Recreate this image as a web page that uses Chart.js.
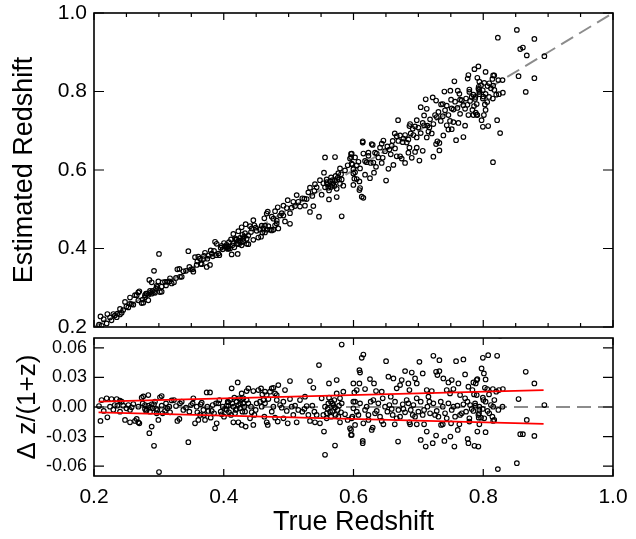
<!DOCTYPE html>
<html><head><meta charset="utf-8">
<script src="https://cdn.jsdelivr.net/npm/chart.js@4.4.1/dist/chart.umd.min.js"></script>
<style>
html,body{margin:0;padding:0;background:#fff;}
#wrap{position:relative;width:636px;height:539px;background:#fff;}
canvas{position:absolute;left:0;}
#top{top:0;} #bot{top:333px;}
</style></head><body>
<div id="wrap"><canvas id="top" width="636" height="333"></canvas><canvas id="bot" width="636" height="206"></canvas></div>
<script>
// ---- data ----
const trueZ = [
0.2195,0.2118,0.227,0.235,0.240,0.2077,0.210,0.215,0.2206,0.2247,0.2298,0.232,0.2427,0.245,0.2478,0.250,0.2529,0.2555,0.258,0.2606,
0.2632,0.2658,0.2683,0.2699,0.2735,0.276,0.2786,0.2812,0.2837,0.2853,0.2863,0.2889,0.2904,0.2925,0.294,0.2966,0.2992,0.3002,0.3017,0.3043,
0.3058,0.3094,0.313,0.3172,0.3197,0.3233,0.3264,0.3285,0.3316,0.3326,0.3352,0.3377,0.3418,0.3454,0.347,0.3495,0.3531,0.3557,0.3583,0.3608,
0.3634,0.366,0.3686,0.3711,0.3737,0.3763,0.3788,0.3799,0.383,0.385,0.3866,0.3891,0.3917,0.3932,0.3953,0.3984,0.4004,0.4045,0.4071,0.2786,
0.2837,0.2889,0.2956,0.2401,0.2683,
0.5818,0.5468,0.5561,0.5715,0.5545,0.5741,0.5622,0.5329,0.5381,0.5021,
0.4944,0.4841,0.4765,0.4713,0.4662,0.4611,0.4533,0.4456,0.4379,0.4353,
0.4215,0.4122,0.4276,0.4097,0.4071,0.4148,0.4199,0.4225,0.4251,0.4266,
0.4302,0.4328,0.4174,0.4148,0.4225,0.4276,0.4338,0.4456,0.4405,0.4431,
0.4492,0.456,0.4585,0.4626,0.4662,0.4678,0.474,0.4791,0.4832,0.4894,
0.492,0.4986,0.5021,0.5047,0.5072,0.5124,0.5149,0.5175,0.5211,0.5252,
0.5278,0.5304,0.5329,0.5365,0.5406,0.5432,0.5483,0.5509,0.5535,0.5586,
0.5612,0.5653,0.5674,0.5705,0.5741,0.5766,0.5792,0.5818,0.5843,0.5869,
0.591,0.5946,0.5962,0.5982,0.5998,0.6013,0.4045,0.4112,0.4199,0.4235,
0.4302,0.4317,0.4379,0.4507,0.4595,0.4636,0.4688,0.4791,0.4817,0.4868,
0.4765,0.5561,0.5602,0.5638,0.5689,0.5715,0.5756,0.5792,
0.6152,0.6127,0.6502,0.7016,0.7231,0.7324,0.7581,0.7694,0.6091,0.6101,
0.6795,0.6898,0.7067,0.7273,0.7324,0.7293,0.772,0.6538,0.6615,0.6743,
0.6949,0.6975,0.6254,0.6316,0.5998,0.6091,0.605,0.6178,0.6347,0.6435,
0.6574,0.6666,0.6718,0.6846,0.6862,0.7129,0.7155,0.7206,0.7385,0.7463,
0.7514,0.754,0.7617,0.7643,0.7771,0.7848,0.7899,0.7858,0.7437,0.7488,
0.772,0.7797,0.5972,0.5962,0.5972,0.6142,0.6142,0.6024,0.6152,0.623,
0.6281,0.6296,0.6461,0.6435,0.6636,0.6687,0.6862,0.6872,0.6975,0.7036,
0.7088,0.7113,0.7129,0.7221,0.7273,0.735,0.7376,0.7401,0.7493,0.7504,
0.7555,0.7607,0.7632,0.776,0.7771,0.7786,0.7925,0.7909,0.5998,0.605,
0.6101,0.6178,0.623,0.6265,0.6332,0.6383,0.6409,0.6486,0.6522,0.6553,
0.6604,0.664,0.6692,0.6718,0.6759,0.6795,0.682,0.6882,0.6923,0.6949,
0.7,0.7036,0.7067,0.7139,0.718,0.7231,0.7283,0.7309,0.7376,0.7411,
0.7463,0.7514,0.7566,0.7602,0.7669,0.7694,0.7735,0.7786,0.7822,0.7874,
0.7925,0.794,
0.7994,0.8076,0.8214,0.7974,0.801,0.8036,0.7909,0.7884,0.8655,0.8788,
0.7833,0.8025,0.8061,0.8148,0.82,0.8241,0.8302,0.8544,0.7994,0.8036,
0.7879,0.794,0.7992,0.8066,0.8118,0.8153,0.8297,0.8942,0.793,0.7966,
0.8015,0.8092,0.8169,0.8153,0.794,0.8036,0.8671,0.857,0.8611,0.8788,
0.7864,0.8518,0.8225,0.815,0.826,
0.275,0.2802,0.2863,0.2925,0.2976,0.3043,0.311,0.3161,0.3521,0.3593,0.3644,0.3696,0.3747,0.3814,0.3881,0.3968,0.402,0.2555,0.236,
0.4061,0.4081,0.4132,0.4163,0.4184,0.4251,0.4287,0.4353,0.442,0.4472,0.4575,0.4636,0.4739,0.4816,0.4919,0.4971,0.5099,0.5243,0.5397,0.5588,0.5623,0.5654,0.5674,0.5725,0.5777,0.5808,
0.6024,0.6076,0.6203,0.6306,0.6358,0.645,0.6589,0.6666,0.6769,0.6846,0.6913,0.6974,0.7088,0.717,0.7257,0.7345,0.7437,0.754,0.7643,0.7756,0.7848,
0.7899,0.7935,0.8002,0.8089,0.8141,0.8171,0.8233
];
const estZ = [
0.209,0.203,0.217,0.225,0.232,0.206,0.227,0.220,0.233,0.224,0.233,0.229,0.236,0.243,0.264,0.252,0.250,0.275,0.258,0.257,
0.281,0.281,0.288,0.291,0.261,0.262,0.276,0.285,0.268,0.320,0.292,0.314,0.292,0.343,0.287,0.305,0.316,0.386,0.289,0.290,
0.314,0.315,0.315,0.324,0.311,0.314,0.325,0.347,0.348,0.328,0.328,0.342,0.343,0.393,0.353,0.347,0.341,0.378,0.358,0.379,
0.374,0.360,0.373,0.389,0.353,0.382,0.358,0.395,0.380,0.394,0.417,0.412,0.387,0.383,0.402,0.398,0.414,0.403,0.400,0.281,
0.282,0.285,0.298,0.246,0.268,
0.482,0.481,0.632,0.633,0.593,0.531,0.525,0.493,0.508,0.463,
0.469,0.451,0.448,0.448,0.448,0.451,0.428,0.422,0.411,0.412,
0.386,0.385,0.408,0.400,0.405,0.414,0.412,0.420,0.427,0.416,
0.425,0.439,0.426,0.437,0.444,0.454,0.462,0.472,0.457,0.451,
0.453,0.448,0.458,0.477,0.489,0.494,0.481,0.495,0.505,0.490,
0.509,0.523,0.490,0.504,0.519,0.536,0.519,0.507,0.528,0.509,
0.526,0.543,0.555,0.534,0.564,0.556,0.574,0.537,0.566,0.576,
0.555,0.557,0.574,0.559,0.552,0.592,0.604,0.576,0.560,0.599,
0.612,0.629,0.641,0.614,0.591,0.578,0.409,0.423,0.423,0.411,
0.418,0.431,0.433,0.445,0.441,0.458,0.457,0.459,0.471,0.484,
0.476,0.556,0.563,0.571,0.566,0.573,0.580,0.565,
0.529,0.532,0.573,0.624,0.634,0.650,0.676,0.684,0.549,0.554,
0.618,0.631,0.649,0.666,0.669,0.673,0.713,0.603,0.613,0.629,
0.646,0.657,0.579,0.593,0.562,0.571,0.577,0.588,0.608,0.618,
0.640,0.635,0.635,0.644,0.657,0.683,0.698,0.693,0.688,0.703,
0.704,0.722,0.720,0.743,0.740,0.740,0.741,0.763,0.714,0.725,
0.756,0.776,0.616,0.633,0.642,0.670,0.673,0.632,0.642,0.644,
0.666,0.664,0.675,0.667,0.693,0.727,0.712,0.717,0.727,0.760,
0.739,0.780,0.756,0.785,0.777,0.767,0.768,0.800,0.802,0.779,
0.826,0.802,0.794,0.833,0.842,0.805,0.864,0.835,0.602,0.612,
0.604,0.623,0.636,0.618,0.644,0.632,0.657,0.648,0.660,0.652,
0.674,0.655,0.674,0.688,0.671,0.689,0.670,0.693,0.689,0.711,
0.708,0.694,0.720,0.713,0.729,0.717,0.735,0.748,0.737,0.752,
0.740,0.757,0.774,0.758,0.778,0.765,0.782,0.799,0.786,0.781,
0.807,0.799,
0.710,0.712,0.727,0.727,0.740,0.753,0.740,0.746,0.799,0.834,
0.753,0.767,0.773,0.782,0.792,0.793,0.797,0.839,0.782,0.794,
0.786,0.793,0.803,0.814,0.808,0.815,0.829,0.890,0.812,0.816,
0.822,0.821,0.841,0.841,0.825,0.850,0.892,0.908,0.912,0.934,
0.857,0.957,0.937,0.620,0.694,
0.270,0.285,0.287,0.289,0.302,0.303,0.306,0.316,0.347,0.367,0.361,0.381,0.374,0.387,0.383,0.407,0.405,0.259,0.234,
0.399,0.416,0.408,0.403,0.423,0.420,0.435,0.425,0.442,0.459,0.430,0.441,0.446,0.464,0.484,0.503,0.508,0.527,0.547,0.569,0.548,0.581,0.562,0.585,0.576,0.589,
0.594,0.621,0.620,0.619,0.642,0.631,0.662,0.686,0.680,0.678,0.705,0.683,0.714,0.708,0.740,0.725,0.764,0.754,0.779,0.766,0.792,
0.768,0.805,0.787,0.786,0.832,0.804,0.829
];
const deltaZ = [
0.0088,0.0071,0.0081,0.0081,0.0064,0.001,-0.0142,-0.004,-0.0104,0.0003,-0.0027,0.002,0.0054,0.0013,-0.0131,-0.0013,0.002,-0.0155,-0.0003,0.003,
-0.0142,-0.0121,-0.0155,-0.0165,0.0094,0.0108,0.002,-0.003,0.0121,-0.0266,-0.0047,-0.0199,-0.0013,-0.0394,0.0054,-0.0064,-0.0131,-0.066,0.0098,0.0111,
-0.0064,-0.004,-0.0013,-0.0054,0.0067,0.0071,0.001,-0.0142,-0.0121,0.0037,0.0054,-0.003,-0.0007,-0.0357,-0.0047,0.002,0.0088,-0.0165,0.0003,-0.0131,
-0.0081,0.0044,-0.003,-0.0131,0.0148,-0.004,0.0148,-0.0108,0.002,-0.0064,-0.0216,-0.0165,0.0037,0.0071,-0.0047,0.0003,-0.0098,0.0013,0.0047,-0.002,
0.0013,0.0027,-0.002,-0.0047,0.0003,
0.0634,0.0425,-0.0485,-0.0391,-0.0249,0.0273,0.0239,0.0263,0.0195,0.0263,
0.0172,0.0222,0.0195,0.0155,0.0121,0.0071,0.0172,0.0162,0.0189,0.0162,
0.0249,0.0189,0.0138,0.0071,0.0013,0.0003,0.0054,0.002,-0.0013,0.0071,
0.0037,-0.0047,-0.0064,-0.0155,-0.0155,-0.0182,-0.0199,-0.0182,-0.0115,-0.0054,
-0.003,0.0054,0.0003,-0.0098,-0.0155,-0.0182,-0.0047,-0.0108,-0.0148,-0.0007,
-0.0115,-0.0165,0.0081,0.0003,-0.0081,-0.0155,-0.003,0.0071,-0.0047,0.0104,
0.001,-0.0081,-0.0142,0.0013,-0.0155,-0.0081,-0.0165,0.0088,-0.0081,-0.0115,
0.0037,0.0054,-0.004,0.0071,0.0138,-0.0098,-0.0155,0.0037,0.0155,-0.0074,
-0.0131,-0.0216,-0.0283,-0.0098,0.0054,0.0148,-0.003,-0.0081,-0.002,0.0088,
0.0088,0.0003,0.0037,0.0037,0.0128,0.0037,0.0081,0.0138,0.0071,0.002,
0.0003,0.0003,-0.002,-0.0047,0.002,-0.0007,-0.003,0.0088,
0.0532,0.0499,0.0465,0.0458,0.0519,0.0475,0.0465,0.0482,0.0374,0.035,
0.0364,0.035,0.034,0.0357,0.0364,0.0324,0.033,0.0307,0.029,0.0273,
0.029,0.0239,0.0283,0.0239,0.0239,0.0239,0.0172,0.0182,0.0162,0.0155,
0.0104,0.0189,0.0222,0.0239,0.0172,0.0172,0.0104,0.0162,0.029,0.0249,
0.0273,0.0182,0.0239,0.0121,0.0206,0.0249,0.0273,0.0128,0.0172,0.0138,
0.0088,0.002,-0.0115,-0.0233,-0.0283,-0.0344,-0.0367,-0.0182,-0.0165,-0.0131,
-0.0233,-0.0209,-0.0175,-0.0142,-0.0175,-0.035,-0.0155,-0.0175,-0.0175,-0.0334,
-0.0175,-0.0401,-0.0249,-0.0367,-0.029,-0.0182,-0.0175,-0.0344,-0.03,-0.0165,
-0.0401,-0.0233,-0.0175,-0.0324,-0.0367,-0.0148,-0.0401,-0.0249,-0.0013,-0.0047,
0.0037,-0.003,-0.0081,0.0054,-0.0064,0.0037,-0.0098,0.0003,-0.0047,0.002,
-0.0081,0.0054,-0.003,-0.0098,0.0027,-0.0054,0.0071,-0.003,0.002,-0.0098,
-0.0047,0.0054,-0.0081,0.0003,-0.0064,0.0037,-0.004,-0.0098,0.0003,-0.0064,
0.0037,-0.003,-0.0098,0.0013,-0.0064,0.0027,-0.0047,-0.0115,-0.002,0.0037,
-0.0081,-0.003,
0.0499,0.0526,0.0519,0.0391,0.034,0.028,0.0283,0.0239,0.0357,0.0239,
0.0172,0.0195,0.0182,0.0182,0.0155,0.0172,0.0182,0.0081,0.0094,0.0054,
0.0013,0.0003,-0.002,-0.004,0.002,0.0003,0.0003,0.002,-0.0108,-0.0108,
-0.0115,-0.0064,-0.0131,-0.0142,-0.0175,-0.0256,-0.0131,-0.0276,-0.0276,-0.0293,
-0.0394,-0.057,-0.063,0.1074,0.0723,
0.0037,-0.004,-0.0007,0.0027,-0.003,0.0013,0.0037,0.0003,0.0037,-0.0054,0.0027,-0.0081,0.0003,-0.004,0.0037,-0.0074,-0.002,-0.003,0.0013,
0.0054,-0.0054,0.0037,0.0094,-0.003,0.0037,-0.0047,0.0071,0.0003,-0.0081,0.0189,0.0155,0.0189,0.0121,0.0054,-0.004,0.0013,-0.002,-0.0047,-0.0064,0.0094,-0.0098,0.0037,-0.0081,0.0013,-0.0054,
0.0054,-0.0081,0.0003,0.0071,-0.004,0.0088,-0.002,-0.0115,-0.002,0.0037,-0.0081,0.0088,-0.003,0.0054,-0.0081,0.0054,-0.0115,0.0003,-0.0081,0.0054,-0.004,
0.0121,-0.0064,0.0071,0.0128,-0.0098,0.0071,-0.003
];
// reference lines
const refLineX = [0.2, 1.0];
const refLineY = [0.2, 1.0];
const zeroLineY = [0, 0];
const sigmaX = [0.207, 0.893];
const sigmaUpper = [0.0054, 0.0172];
const sigmaLower = [-0.0054, -0.0172];
// tick labels
const xTickLabels = [0.2, 0.4, 0.6, 0.8, 1.0];
const topYTickLabels = [0.2, 0.4, 0.6, 0.8, 1.0];
const botYTickLabels = [-0.06, -0.03, 0.0, 0.03, 0.06];

const FONT = '"Liberation Sans", Arial, Helvetica, sans-serif';
Chart.defaults.font.family = FONT;
Chart.defaults.color = '#000';

function isIn(list, v){ return list.some(t => Math.abs(t - v) < 1e-7); }
function pairs(xs, ys){ return xs.map((x,i)=>({x:x, y:ys[i]})); }

function framePlugin(cfg){
  return {
    id: 'frameTicks',
    afterDatasetsDraw(chart){
      const {ctx, chartArea:a, scales} = chart;
      const xs = scales.x, ys = scales.y;
      ctx.save();
      ctx.strokeStyle = '#000';
      ctx.lineWidth = 1.2;
      ctx.beginPath();
      xs.ticks.forEach(t => {
        const p = xs.getPixelForValue(t.value);
        const len = isIn(cfg.xMajor, t.value) ? cfg.xMajorLen : cfg.xMinorLen;
        ctx.moveTo(p, a.bottom); ctx.lineTo(p, a.bottom - len);
        ctx.moveTo(p, a.top); ctx.lineTo(p, a.top + len);
      });
      ys.ticks.forEach(t => {
        const p = ys.getPixelForValue(t.value);
        const len = isIn(cfg.yMajor, t.value) ? cfg.yMajorLen : cfg.yMinorLen;
        ctx.moveTo(a.left, p); ctx.lineTo(a.left + len, p);
        ctx.moveTo(a.right, p); ctx.lineTo(a.right - len, p);
      });
      ctx.stroke();
      ctx.lineWidth = 1.6;
      ctx.strokeRect(a.left, a.top, a.right - a.left, a.bottom - a.top);
      ctx.restore();
    }
  };
}

const pointStyle = {
  pointRadius: 2.3, pointHoverRadius: 2.3, pointBorderWidth: 1.15,
  pointBorderColor: '#000', pointBackgroundColor: 'rgba(0,0,0,0)', showLine: false
};

// ---------- top panel ----------
new Chart(document.getElementById('top'), {
  type: 'scatter',
  data: { datasets: [
    Object.assign({ label: 'galaxies', data: pairs(trueZ, estZ), order: 1 }, pointStyle),
    { label: 'one-to-one', data: pairs(refLineX, refLineY), showLine: true, pointRadius: 0,
      borderColor: '#8c8c8c', borderWidth: 2, borderDash: [14, 7], order: 2 }
  ]},
  options: {
    responsive: false, devicePixelRatio: 1, animation: false,
    layout: { padding: { top: 13, right: 23, bottom: 6, left: 0 } },
    plugins: { legend: { display: false }, tooltip: { enabled: false } },
    scales: {
      x: { type: 'linear', min: 0.2, max: 1.0,
        ticks: { stepSize: 0.05, display: false, maxTicksLimit: 100, autoSkip: false },
        grid: { display: false, drawTicks: false }, border: { display: false },
        afterFit(s){ s.height = 0; s.paddingLeft = 0; s.paddingRight = 0; } },
      y: { type: 'linear', min: 0.2, max: 1.0,
        ticks: { stepSize: 0.05, maxTicksLimit: 100, autoSkip: false, padding: 7,
          font: { size: 21 },
          callback: v => isIn(topYTickLabels, v) ? v.toFixed(1) : null },
        grid: { display: false, drawTicks: false }, border: { display: false },
        title: { display: true, text: 'Estimated Redshift', font: { size: 27 }, padding: { top: 8, bottom: 0 } },
        afterFit(s){ s.width = 94; s.paddingTop = 0; s.paddingBottom = 0; } }
    }
  },
  plugins: [framePlugin({ xMajor: xTickLabels, yMajor: topYTickLabels, xMajorLen: 7, xMinorLen: 4, yMajorLen: 10, yMinorLen: 6 })]
});

// ---------- bottom panel ----------
new Chart(document.getElementById('bot'), {
  type: 'scatter',
  data: { datasets: [
    { label: 'upper', data: pairs(sigmaX, sigmaUpper), showLine: true, pointRadius: 0,
      borderColor: '#ff0000', borderWidth: 1.8, order: 0 },
    { label: 'lower', data: pairs(sigmaX, sigmaLower), showLine: true, pointRadius: 0,
      borderColor: '#ff0000', borderWidth: 1.8, order: 0 },
    Object.assign({ label: 'residuals', data: pairs(trueZ, deltaZ), order: 1, clip: 0 }, pointStyle),
    { label: 'zero', data: pairs(refLineX, zeroLineY), showLine: true, pointRadius: 0,
      borderColor: '#8c8c8c', borderWidth: 2, borderDash: [14, 7], order: 2 }
  ]},
  options: {
    responsive: false, devicePixelRatio: 1, animation: false,
    layout: { padding: { top: 5, right: 23, bottom: 0, left: 0 } },
    plugins: { legend: { display: false }, tooltip: { enabled: false } },
    scales: {
      x: { type: 'linear', min: 0.2, max: 1.0,
        ticks: { stepSize: 0.05, maxTicksLimit: 100, autoSkip: false, maxRotation: 0, padding: 9,
          font: { size: 21 },
          callback: v => isIn(xTickLabels, v) ? v.toFixed(1) : null },
        grid: { display: false, drawTicks: false }, border: { display: false },
        title: { display: true, text: 'True Redshift', font: { size: 27 }, padding: { top: 0, bottom: 0 } },
        afterFit(s){ s.height = 63; s.paddingLeft = 0; s.paddingRight = 0; } },
      y: { type: 'linear', min: -0.07, max: 0.07,
        ticks: { stepSize: 0.01, maxTicksLimit: 100, autoSkip: false, padding: 7,
          font: { size: 18 },
          callback: v => isIn(botYTickLabels, v) ? (Math.abs(v) < 1e-9 ? '0.00' : v.toFixed(2)) : null },
        grid: { display: false, drawTicks: false }, border: { display: false },
        title: { display: true, text: 'Δ z/(1+z)', font: { size: 26 }, padding: { top: 12, bottom: 0 } },
        afterFit(s){ s.width = 94; s.paddingTop = 0; s.paddingBottom = 0; } }
    }
  },
  plugins: [framePlugin({ xMajor: xTickLabels, yMajor: botYTickLabels, xMajorLen: 7, xMinorLen: 4, yMajorLen: 10, yMinorLen: 6 })]
});
</script>
</body></html>
